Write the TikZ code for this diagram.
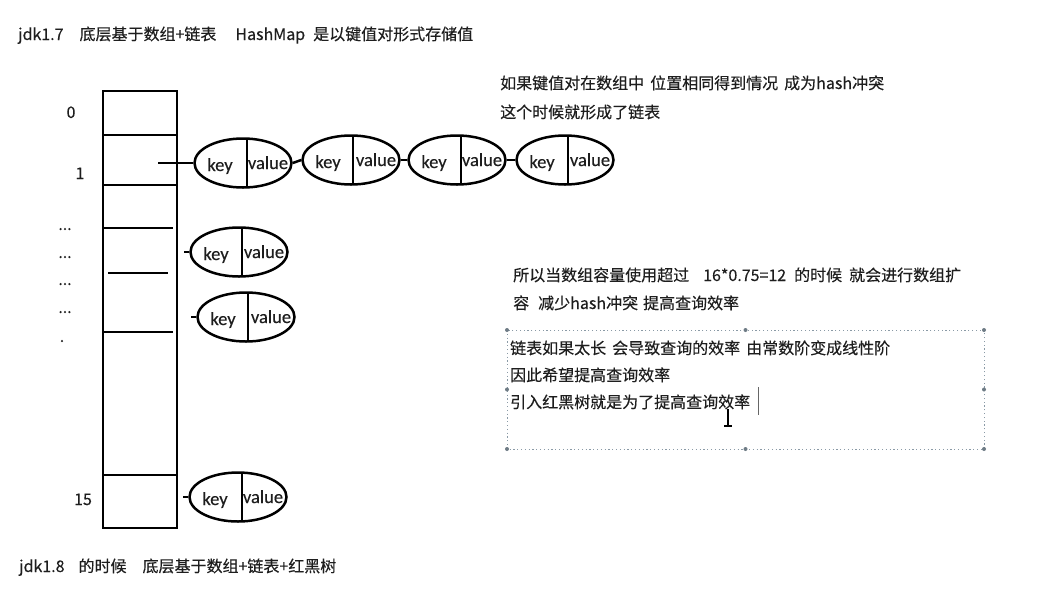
\documentclass[tikz,border=0pt]{standalone}
\usepackage{fontspec}
\setmainfont{Noto Sans CJK SC}[FakeBold=0.25]
\newfontfamily\kvfont{Carlito}[FakeBold=0.25]
\usetikzlibrary{shapes.geometric}
\definecolor{txtc}{HTML}{1E1E1E}
\definecolor{dotc}{HTML}{8A9AA6}
\begin{document}
\begin{tikzpicture}[x=1pt,y=-1pt,
  txt/.style={anchor=base west, inner sep=0pt, font=\fontsize{16}{16}\selectfont, text=txtc},
  idx/.style={anchor=base, inner sep=0pt, font=\fontsize{16}{16}\selectfont, text=txtc},
  arrline/.style={line width=2.6pt},
  kv/.style={draw, ellipse, line width=2.5pt, minimum width=97pt, minimum height=49pt, inner sep=0pt},
  kvtext/.style={anchor=base, inner sep=0pt, font=\kvfont\fontsize{18.5}{18.5}\selectfont, text=txtc},
  link/.style={line width=2.5pt},
  selbox/.style={draw=dotc, line width=1pt, dash pattern=on 1.2pt off 2.6pt},
  handle/.style={fill=dotc!80!black, circle, inner sep=0pt, minimum size=4pt}
]
\useasboundingbox[fill=white] (0,0) rectangle (1049,590);

% titles
\node[txt] (t1) at (18,40) {jdk1.7\hspace{16pt}底层基于数组+链表\hspace{19pt}HashMap\hspace{8pt}是以键值对形式存储值};
\node[txt] (t2) at (19,572) {jdk1.8\hspace{14pt}的时候\hspace{16pt}底层基于数组+链表+红黑树};

% array
\node[draw, arrline, minimum width=74pt, minimum height=437pt, inner sep=0pt] (arr) at (140,309.5) {};
\draw[arrline] (103,135) -- (177,135);
\draw[arrline] (103,185) -- (177,185);
\draw[arrline] (103,228) -- (173,228);
\draw[arrline] (108,273) -- (168,273);
\draw[arrline] (103,332) -- (173,332);
\draw[arrline] (103,475) -- (177,475);

% indices
\node[idx] (i0) at (71,118) {0};
\node[idx] (i1) at (80,179) {1};
\node[idx] (d1) at (65,230) {...};
\node[idx] (d2) at (65,258) {...};
\node[idx] (d3) at (65,285) {...};
\node[idx] (d4) at (65,313) {...};
\node[idx] (d5) at (62,342) {.};
\node[idx] (i15) at (83,505) {15};

% key-value entries
\newcommand{\kvpair}[4]{%
  \node[kv] (#1) at (#2,#3) {};
  \draw[line width=2.5pt] (#2+#4,#3-24.5) -- (#2+#4,#3+24.5);
  \node[kvtext] at (#2-23,#3+8) {key};
  \node[kvtext] at (#2+25,#3+6) {value};
}
\kvpair{e1}{243}{163}{4}
\kvpair{e2}{351}{160}{2}
\kvpair{e3}{457}{160}{4}
\kvpair{e4}{565}{160}{3}
\kvpair{e5}{239}{252}{3}
\kvpair{e6}{246}{317}{2}
\kvpair{e7}{238}{497}{4}

\coordinate (c1) at (158,163);
\coordinate (c5) at (184,252);
\coordinate (c6) at (191,317);
\coordinate (c7) at (183,497);
\draw[link] (c1) -- (e1.west);
\draw[link] (e1.east) -- (e2.west);
\draw[link] (e2.east) -- (e3.west);
\draw[link] (e3.east) -- (e4.west);
\draw[link] (c5) -- (e5.west);
\draw[link] (c6) -- (e6.west);
\draw[link] (c7) -- (e7.west);

% right texts
\node[txt] (r1) at (500,89) {如果键值对在数组中\hspace{6pt}位置相同得到情况\hspace{6pt}成为hash冲突};
\node[txt] (r2) at (500,118) {这个时候就形成了链表};
\node[txt] (m1) at (513,281) {所以当数组容量使用超过\hspace{14pt}16*0.75=12\hspace{8pt}的时候\hspace{7pt}就会进行数组扩};
\node[txt] (m2) at (513,309) {容\hspace{9pt}减少hash冲突\hspace{5pt}提高查询效率};

% selected text box
\draw[selbox] (507,330) rectangle (984,449);
\foreach \p in {(507,330),(745.5,330),(984,330),(507,389.5),(984,389.5),(507,449),(745.5,449),(984,449)}
  \node[handle] at \p {};
\node[txt] (b1) at (510,354) {链表如果太长\hspace{6pt}会导致查询的效率\hspace{6pt}由常数阶变成线性阶};
\node[txt] (b2) at (510,381) {因此希望提高查询效率};
\node[txt] (b3) at (510,408) {引入红黑树就是为了提高查询效率};
% caret and mouse cursor
\draw[black!60, line width=0.8pt] (758,387) -- (758,415);
\draw[black, line width=1.2pt] (728,409) -- (728,426) (724,426) -- (732,426);
\end{tikzpicture}
\end{document}
